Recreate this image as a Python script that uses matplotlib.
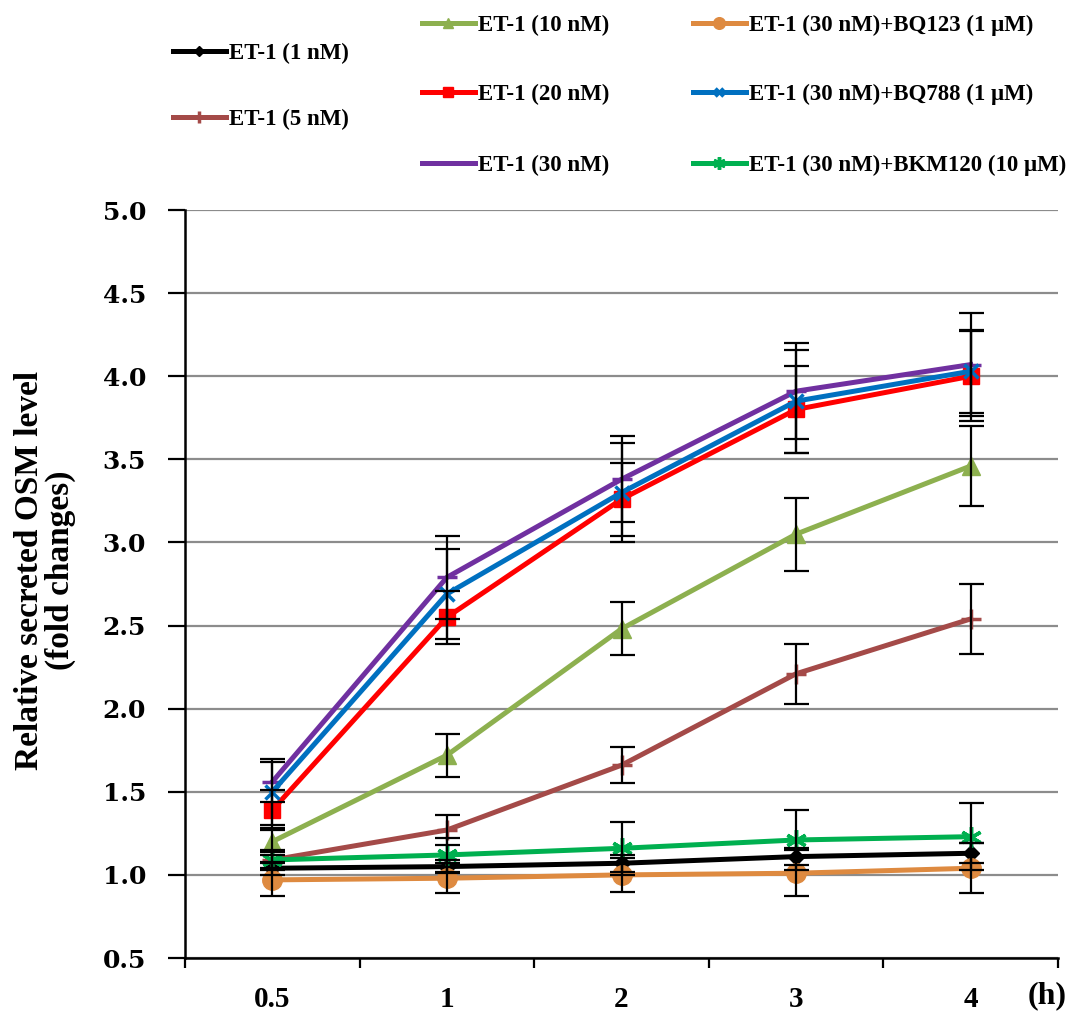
import matplotlib
matplotlib.use("Agg")
import matplotlib.pyplot as plt

# time points (h) and relative secreted OSM level (fold changes)
times = ['0.5', '1', '2', '3', '4']

et1_1nM = [1.04, 1.05, 1.07, 1.11, 1.13]
et1_5nM = [1.09, 1.27, 1.66, 2.21, 2.54]
et1_10nM = [1.20, 1.72, 2.48, 3.05, 3.46]
et1_20nM = [1.39, 2.55, 3.26, 3.80, 4.00]
et1_30nM = [1.56, 2.79, 3.38, 3.91, 4.07]
bq123 = [0.97, 0.98, 1.00, 1.01, 1.04]
bq788 = [1.50, 2.69, 3.30, 3.85, 4.03]
bkm120 = [1.09, 1.12, 1.16, 1.21, 1.23]

err_1nM = [0.04, 0.04, 0.05, 0.05, 0.06]
err_5nM = [0.05, 0.09, 0.11, 0.18, 0.21]
err_10nM = [0.08, 0.13, 0.16, 0.22, 0.24]
err_20nM = [0.12, 0.16, 0.22, 0.26, 0.27]
err_30nM = [0.12, 0.25, 0.26, 0.29, 0.31]
err_bq123 = [0.10, 0.09, 0.10, 0.14, 0.15]
err_bq788 = [0.20, 0.27, 0.30, 0.31, 0.25]
err_bkm120 = [0.06, 0.10, 0.16, 0.18, 0.20]

series = [
    ('ET-1 (1 nM)', et1_1nM, err_1nM, '#000000', 'D', 8),
    ('ET-1 (5 nM)', et1_5nM, err_5nM, '#A44A48', '+', 14),
    ('ET-1 (10 nM)', et1_10nM, err_10nM, '#8DB04F', '^', 13),
    ('ET-1 (20 nM)', et1_20nM, err_20nM, '#FF0000', 's', 11),
    ('ET-1 (30 nM)', et1_30nM, err_30nM, '#7030A0', '_', 14),
    ('ET-1 (30 nM)+BQ123 (1 μM)', bq123, err_bq123, '#DE8A40', 'o', 14),
    ('ET-1 (30 nM)+BQ788 (1 μM)', bq788, err_bq788, '#0070C0', 'x', 10),
    ('ET-1 (30 nM)+BKM120 (10 μM)', bkm120, err_bkm120, '#00B050', (6, 2, 0), 15),
]

# legend handle left edge / centre (pixels), same order as series
legend_pos = [(173, 53), (173, 119), (422, 25), (422, 94), (422, 165),
              (693, 25), (693, 94), (693, 165)]

W, H = 1070, 1022
fig = plt.figure(figsize=(W / 100, H / 100), dpi=100)
ax = fig.add_axes([185 / W, 1 - 958 / H, (1058 - 185) / W, (958 - 210) / H])

x = list(range(len(times)))
lines = []
for label, vals, err, color, marker, ms in series:
    ln, = ax.plot(x, vals, color=color, lw=3.6, marker=marker, ms=ms,
                  mew=2.5 if marker in ('+', 'x', '_', (6, 2, 0)) else 1,
                  mec=color, mfc=color, zorder=3, label=label)
    ax.errorbar(x, vals, yerr=err, fmt='none', ecolor='black', elinewidth=1.6,
                capsize=9, capthick=1.6, zorder=4)
    lines.append(ln)

ax.set_ylim(0.5, 5.0)
ax.set_xlim(-0.5, len(times) - 0.5)
ax.set_yticks([0.5, 1.0, 1.5, 2.0, 2.5, 3.0, 3.5, 4.0, 4.5, 5.0])
ax.set_yticklabels(['%.1f' % v for v in ax.get_yticks()],
                   fontfamily='DejaVu Serif', fontweight='bold', fontsize=18)
ax.set_xticks(x)
ax.set_xticklabels(times, fontfamily='Liberation Serif', fontweight='bold', fontsize=21)
ax.set_xticks([i - 0.5 for i in range(len(times) + 1)], minor=True)
ax.tick_params(axis='x', which='major', length=0, pad=20)
ax.tick_params(axis='x', which='minor', length=7, width=1.6, direction='out')
ax.tick_params(axis='y', length=12, width=1.6, direction='out', pad=16)

ax.grid(axis='y', color='#8c8c8c', linewidth=1.6)
ax.set_axisbelow(True)
for s in ['top', 'right']:
    ax.spines[s].set_visible(False)
ax.spines['left'].set_linewidth(1.8)
ax.spines['bottom'].set_linewidth(1.8)

fig.text(45 / W, 1 - 570 / H, 'Relative secreted OSM level\n(fold changes)',
         rotation=90, ha='center', va='center', multialignment='center',
         fontfamily='Liberation Serif', fontweight='bold', fontsize=24, linespacing=1.0)

fig.text(1067 / W, 1 - 996 / H, '(h)', ha='right', va='center',
         fontfamily='Liberation Serif', fontweight='bold', fontsize=23)

for ln, (px, py) in zip(lines, legend_pos):
    fig.legend(handles=[ln], loc='center left', bbox_to_anchor=(px / W, 1 - py / H),
               frameon=False, borderpad=0, borderaxespad=0, handlelength=2.3,
               handletextpad=0.15, numpoints=1, markerscale=0.6,
               prop={'family': 'Liberation Serif', 'weight': 'bold', 'size': 16.5})

fig.savefig('out.png', dpi=100)
